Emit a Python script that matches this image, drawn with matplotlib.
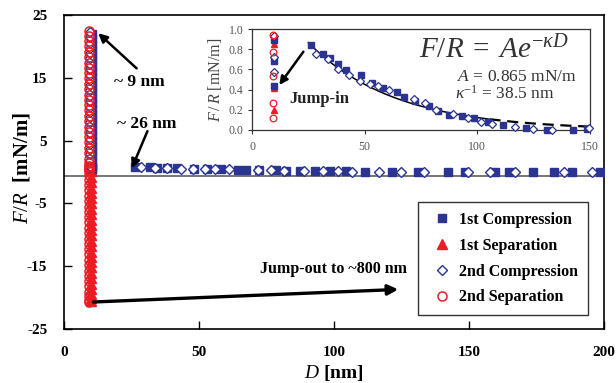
import numpy as np
import matplotlib
matplotlib.use("Agg")
import matplotlib.pyplot as plt

plt.rcParams.update({
    "font.family": ["Liberation Serif", "DejaVu Serif"],
    "mathtext.fontset": "custom",
    "mathtext.rm": "Liberation Serif",
    "mathtext.it": "Liberation Serif:italic",
    "mathtext.bf": "Liberation Serif:bold",
})

BLUE = "#2B3591"
RED = "#EC1C24"

# ---- data: force-distance profiles (F/R in mN/m, D in nm) ----
# hard-wall column reached near D ~ 9 nm
comp1_col_D = 10.3
comp1_col_F = [0.44, 0.68, 0.89, 1.6, 2.5, 3.3, 4.2, 5.0, 5.9, 6.7, 7.6, 8.4, 9.3,
               10.1, 11.0, 11.8, 12.7, 13.5, 14.4, 15.2, 16.1, 16.9, 17.8, 18.6,
               19.5, 20.3, 21.2, 22.0]
comp2_col_D = 9.8
comp2_col_F = [0.57, 0.72, 0.93, 1.9, 2.8, 3.6, 4.5, 5.3, 6.2, 7.0, 7.9, 8.7, 9.6,
               10.4, 11.3, 12.1, 13.0, 13.8, 14.7, 15.5, 16.4, 17.2, 18.1, 18.9,
               19.8, 20.6, 21.5, 22.3]
sep1_col_D = 9.9
sep1_col_F = [22.0, 21.1, 20.3, 19.4, 18.6, 17.7, 16.9, 16.0, 15.2, 14.3, 13.5, 12.6,
              11.8, 10.9, 10.1, 9.2, 8.4, 7.5, 6.7, 5.8, 5.0, 4.1, 3.3, 2.4, 1.7,
              0.85, 0.42, 0.20, -0.8, -1.6, -2.5, -3.3, -4.2, -5.0, -5.9, -6.7,
              -7.6, -8.4, -9.3, -10.1, -11.0, -11.8, -12.7, -13.5, -14.4, -15.2,
              -16.1, -16.9, -17.8, -18.6, -19.4, -20.1, -20.6]
sep2_col_D = 9.2
sep2_col_F = [22.5, 21.7, 20.8, 20.0, 19.1, 18.3, 17.4, 16.6, 15.7, 14.9, 14.0, 13.2,
              12.3, 11.5, 10.6, 9.8, 8.9, 8.1, 7.2, 6.4, 5.5, 4.7, 3.8, 3.0, 2.1, 1.4,
              0.94, 0.77, 0.53, 0.27, 0.12, -0.4, -1.2, -2.1, -2.9, -3.8, -4.6, -5.5,
              -6.3, -7.2, -8.0, -8.9, -9.7, -10.6, -11.4, -12.3, -13.1, -14.0, -14.8,
              -15.7, -16.5, -17.4, -18.2, -19.1, -19.8, -20.4, -20.7]

# long-range repulsive tails on approach
comp1_tail_D = [26.2, 31.7, 34.6, 38.0, 41.7, 48.2, 53.1, 58.0, 64.4, 67.5, 72.3,
                78.5, 82.4, 87.4, 93.0, 98.5, 104.6, 111.3, 121.4, 131.0, 142.3,
                148.6, 159.6, 164.8, 173.8, 181.6, 188.0, 198.5]
comp1_tail_F = [0.84, 0.75, 0.71, 0.65, 0.59, 0.54, 0.47, 0.42, 0.38, 0.33, 0.29,
                0.24, 0.19, 0.15, 0.14, 0.12, 0.08, 0.05, 0.02, 0.00, 0.00,
                0.01, 0.01, 0.00, 0.00, 0.01, 0.00, 0.00]
comp2_tail_D = [28.4, 33.6, 38.3, 43.2, 47.9, 52.4, 56.1, 61.0, 72.0, 76.8, 81.5,
                89.0, 95.8, 101.6, 106.6, 116.6, 124.9, 133.3, 149.7, 157.8, 167.0,
                185.0, 195.4]
comp2_tail_F = [0.75, 0.70, 0.60, 0.54, 0.49, 0.46, 0.44, 0.40, 0.31, 0.27, 0.20,
                0.16, 0.12, 0.08, 0.06, 0.03, 0.01, 0.00, 0.02, 0.01, 0.00,
                0.01, 0.00]

# exponential fit F/R = A exp(-kappa (D - D_onset))
A_fit = 0.865          # mN/m
debye_length = 38.5    # nm
D_onset = 25.0         # nm
D_dash_start = 105.0   # nm

legend_labels = ["1st Compression", "1st Separation", "2nd Compression", "2nd Separation"]
main_xticks = [0, 50, 100, 150, 200]
main_yticks = [-25, -15, -5, 5, 15, 25]
inset_xticks = [0, 50, 100, 150]
inset_yticks = [0.0, 0.2, 0.4, 0.6, 0.8, 1.0]
inset_xmax = 150


def series(col_D, col_F, tail_D=None, tail_F=None):
    D = list(np.full(len(col_F), col_D))
    F = list(col_F)
    if tail_D is not None:
        D += list(tail_D)
        F += list(tail_F)
    return np.array(D), np.array(F)


comp1_D, comp1_F = series(comp1_col_D, comp1_col_F, comp1_tail_D, comp1_tail_F)
comp2_D, comp2_F = series(comp2_col_D, comp2_col_F, comp2_tail_D, comp2_tail_F)
sep1_D, sep1_F = series(sep1_col_D, sep1_col_F)
sep2_D, sep2_F = series(sep2_col_D, sep2_col_F)

W, H = 616, 383
fig = plt.figure(figsize=(W / 100, H / 100), dpi=100)
fig.patch.set_facecolor("white")

# ---------------- main axes ----------------
ax = fig.add_axes([64 / W, 1 - 329 / H, 540 / W, 314 / H])
ax.set_xlim(0, 200)
ax.set_ylim(-25, 25)
ax.axhline(-0.6, color="#6b6b6b", lw=1.3, zorder=1)

style = {
    "comp1": dict(marker="s", ms=6, color=BLUE, mec=BLUE, ls="none"),
    "sep1": dict(marker="^", ms=7, color=RED, mec=RED, ls="none"),
    "comp2": dict(marker="D", ms=5, mfc="white", mec=BLUE, mew=1.0, ls="none"),
    "sep2": dict(marker="o", ms=6.5, mfc="none", mec=RED, mew=1.1, ls="none"),
}

h_sep1, = ax.plot(sep1_D, sep1_F, zorder=3, **style["sep1"])
h_comp1, = ax.plot(comp1_D, comp1_F, zorder=4, **style["comp1"])
h_comp2, = ax.plot(comp2_D, comp2_F, zorder=5, **style["comp2"])
h_sep2, = ax.plot(sep2_D, sep2_F, zorder=6, **style["sep2"])

ax.set_xticks(main_xticks)
ax.set_yticks(main_yticks)
ax.set_yticklabels([str(v) for v in main_yticks])
ax.tick_params(direction="in", length=6, width=1.0, labelsize=11, pad=12)
for lab in ax.get_xticklabels() + ax.get_yticklabels():
    lab.set_fontweight("bold")
for sp in ax.spines.values():
    sp.set_linewidth(1.2)
    sp.set_color("black")

fig.text(22 / W, 1 - 168 / H, r"$F/R$  [mN/m]", rotation=90, ha="center",
         va="center", fontsize=15, fontweight="bold")
fig.text(334 / W, 1 - 373 / H, r"$D$ [nm]", ha="center", va="center",
         fontsize=14, fontweight="bold")

arrow_kw = dict(arrowstyle="-|>", color="black", lw=1.8, mutation_scale=13,
                shrinkA=0, shrinkB=0)
ax.annotate("", xy=(12.7, 22.1), xytext=(26.9, 16.5), arrowprops=arrow_kw, zorder=8)
ax.text(28.0, 14.4, "~ 9 nm", ha="center", va="center", fontsize=12.5, fontweight="bold")
ax.annotate("", xy=(25.1, 0.6), xytext=(30.9, 6.5), arrowprops=arrow_kw, zorder=8)
ax.text(30.8, 7.7, "~ 26 nm", ha="center", va="center", fontsize=12.5, fontweight="bold")
ax.annotate("", xy=(123.8, -18.7), xytext=(10.9, -20.7),
            arrowprops=dict(arrowstyle="-|>", color="black", lw=2.4,
                            mutation_scale=15, shrinkA=0, shrinkB=0), zorder=8)
ax.text(100, -15.4, "Jump-out to ~800 nm", ha="center", va="center",
        fontsize=11.5, fontweight="bold")

leg = ax.legend([h_comp1, h_sep1, h_comp2, h_sep2], legend_labels,
                loc="lower right", bbox_to_anchor=(0.970, 0.0446), borderaxespad=0,
                frameon=True, fancybox=False, edgecolor="black",
                prop={"weight": "bold", "size": 11.5},
                handlelength=1.8, handletextpad=0.15, labelspacing=0.62,
                borderpad=0.6)
leg.get_frame().set_linewidth(1.0)
leg.set_zorder(10)

# ---------------- inset ----------------
axi = fig.add_axes([252 / W, 1 - 130 / H, 338 / W, 101 / H])
axi.set_xlim(0, inset_xmax)
axi.set_ylim(0, 1.0)

in_style = {
    "comp1": dict(marker="s", ms=5, color=BLUE, mec=BLUE, ls="none"),
    "sep1": dict(marker="^", ms=5, color=RED, mec=RED, ls="none"),
    "comp2": dict(marker="D", ms=4, mfc="white", mec=BLUE, mew=0.9, ls="none"),
    "sep2": dict(marker="o", ms=4.8, mfc="none", mec=RED, mew=0.9, ls="none"),
}
Dfit = np.linspace(D_onset, inset_xmax, 200)
Ffit = A_fit * np.exp(-(Dfit - D_onset) / debye_length)
solid = Dfit <= D_dash_start
axi.plot(Dfit[solid], Ffit[solid], color="black", lw=1.1, zorder=2)
axi.plot(Dfit[~solid], Ffit[~solid], color="black", lw=1.6, ls=(0, (5, 3)), zorder=2)

axi.plot(np.full(len(sep1_col_F), 9.6), sep1_col_F, zorder=3, **in_style["sep1"])
axi.plot(np.full(len(comp1_col_F), 9.9), comp1_col_F, zorder=4, **in_style["comp1"])
axi.plot(np.full(len(comp2_col_F), 9.8), comp2_col_F, zorder=5, **in_style["comp2"])
axi.plot(np.full(len(sep2_col_F), 9.5), sep2_col_F, zorder=6, **in_style["sep2"])

c1D, c1F = np.array(comp1_tail_D), np.array(comp1_tail_F)
c2D, c2F = np.array(comp2_tail_D), np.array(comp2_tail_F)
m1 = c1D <= inset_xmax
m2 = c2D <= inset_xmax
axi.plot(c1D[m1], c1F[m1], zorder=4, clip_on=False, **in_style["comp1"])
axi.plot(c2D[m2], c2F[m2], zorder=5, clip_on=False, **in_style["comp2"])

axi.set_xticks(inset_xticks)
axi.set_yticks(inset_yticks)
axi.set_yticklabels([f"{v:.1f}" for v in inset_yticks])
axi.tick_params(direction="out", length=3, width=0.8, labelsize=8.5,
                colors="#333333", labelcolor="#555555", pad=3)
axi.tick_params(axis="x", pad=5)
for sp in axi.spines.values():
    sp.set_linewidth(0.9)
    sp.set_color("#333333")

fig.text(215 / W, 1 - 80 / H, r"$F\,/\,R$ [mN/m]", rotation=90, ha="center",
         va="center", fontsize=11.5, color="#444444")
axi.annotate("", xy=(12.1, 0.446), xytext=(22.8, 0.775),
             arrowprops=dict(arrowstyle="-|>", color="black", lw=1.8,
                             mutation_scale=12, shrinkA=0, shrinkB=0), zorder=8)
axi.text(29.8, 0.31, "Jump-in", ha="center", va="center", fontsize=12,
         fontweight="bold", color="#222222")

fig.text(494 / W, 1 - 50 / H, r"$F/R\;=\;Ae^{-\kappa D}$", ha="center", va="center",
         fontsize=21, color="#333333")
fig.text(457 / W, 1 - 77 / H, r"$A$ = 0.865 mN/m", ha="left", va="center",
         fontsize=12.5, color="#333333")
fig.text(455 / W, 1 - 94 / H, r"$\kappa^{-1}$ = 38.5 nm", ha="left", va="center",
         fontsize=12.5, color="#333333")

fig.savefig("out.png", dpi=100, facecolor="white")
